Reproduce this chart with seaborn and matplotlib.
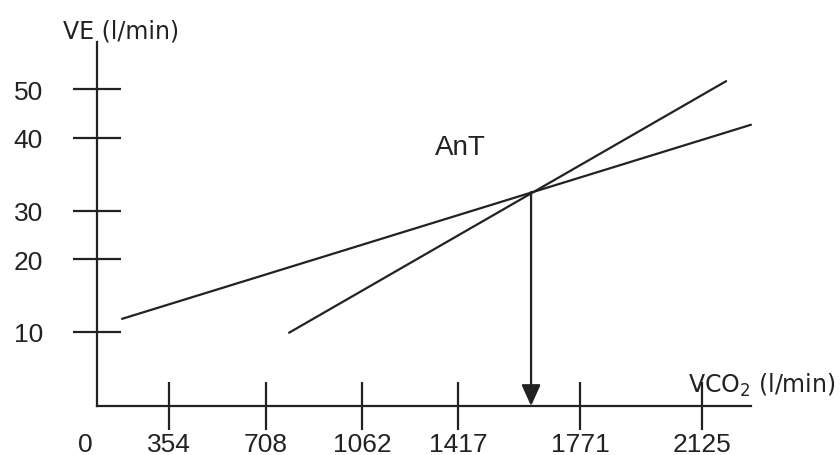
import numpy as np
import matplotlib
matplotlib.use("Agg")
import matplotlib.pyplot as plt
import seaborn as sns
import pandas as pd

# ---- data (read from the schematic) ----
vco2_ticks = [354, 708, 1062, 1417, 1771, 2125]
ve_ticks = [10, 20, 30, 40, 50]

# aerobic (shallow) line and anaerobic (steep) line
vco2_shallow = [123, 2267]
ve_shallow = [11.8, 42.7]
vco2_steep = [793, 2195]
ve_steep = [9.9, 51.6]

# anaerobic threshold (intersection)
ant_vco2 = 1629
ant_ve = 32.6

# ---- schematic (non-uniform) axis spacing: value -> drawn position ----
x_knot_vals = [0, 354, 708, 1062, 1417, 1771, 2125]
x_knot_pos = [97, 169, 266, 362, 458, 580, 702]
y_knot_vals = [0, 10, 20, 30, 40, 50]
y_knot_pos = [49, 123, 196, 244, 317, 366]


def piecewise(src, dst):
    src = np.asarray(src, float)
    dst = np.asarray(dst, float)
    s0 = (dst[1] - dst[0]) / (src[1] - src[0])
    s1 = (dst[-1] - dst[-2]) / (src[-1] - src[-2])

    def f(v):
        v = np.asarray(v, float)
        out = np.interp(v, src, dst)
        out = np.where(v < src[0], dst[0] + (v - src[0]) * s0, out)
        out = np.where(v > src[-1], dst[-1] + (v - src[-1]) * s1, out)
        return out
    return f


fx, ix = piecewise(x_knot_vals, x_knot_pos), piecewise(x_knot_pos, x_knot_vals)
fy, iy = piecewise(y_knot_vals, y_knot_pos), piecewise(y_knot_pos, y_knot_vals)

sns.set_style("white")
plt.rcParams["font.family"] = ["Liberation Sans", "DejaVu Sans"]
plt.rcParams["mathtext.fontset"] = "dejavusans"

W, H = 840, 456
ink = "#222222"
fig = plt.figure(figsize=(W / 100, H / 100), dpi=100)
left_px, right_px, bottom_px, top_px = 97, 751, 49, 413
ax = fig.add_axes([left_px / W, bottom_px / H, (right_px - left_px) / W, (top_px - bottom_px) / H])
ax.set_xscale("function", functions=(fx, ix))
ax.set_yscale("function", functions=(fy, iy))
ax.set_xlim(0, float(ix(right_px)))
ax.set_ylim(0, float(iy(top_px)))
ax.patch.set_alpha(0)

df1 = pd.DataFrame({"VCO2": vco2_shallow, "VE": ve_shallow})
df2 = pd.DataFrame({"VCO2": vco2_steep, "VE": ve_steep})
sns.lineplot(data=df1, x="VCO2", y="VE", ax=ax, color=ink, lw=1.6,
             estimator=None, sort=False, clip_on=False)
sns.lineplot(data=df2, x="VCO2", y="VE", ax=ax, color=ink, lw=1.6,
             estimator=None, sort=False, clip_on=False)

ax.annotate("", xy=(ant_vco2, 0), xytext=(ant_vco2, ant_ve),
            arrowprops=dict(arrowstyle="-|>,head_length=1.0,head_width=0.45",
                            mutation_scale=13, lw=1.6, color=ink,
                            shrinkA=0, shrinkB=0))

ax.text(1332, 37.8, "AnT", fontsize=20, color=ink, ha="left", va="baseline")

for s in ["top", "right"]:
    ax.spines[s].set_visible(False)
for s in ["left", "bottom"]:
    ax.spines[s].set_color(ink)
    ax.spines[s].set_linewidth(1.6)

ax.set_xticks(vco2_ticks)
ax.set_xticklabels([str(v) for v in vco2_ticks])
ax.set_yticks(ve_ticks)
ax.set_yticklabels([str(v) for v in ve_ticks])
ax.minorticks_off()
ax.tick_params(axis="both", direction="inout", length=35, width=1.6, color=ink,
               labelsize=19, labelcolor=ink, bottom=True, left=True,
               top=False, right=False)
ax.tick_params(axis="x", pad=1)
ax.tick_params(axis="y", pad=21.5)
ax.set_xlabel("")
ax.set_ylabel("")

ax.annotate("0", xy=(0, 0), xytext=(-8.6, -18.5), textcoords="offset points",
            ha="center", va="top", fontsize=19, color=ink)

fig.text(63 / W, 1 - 31 / H, "VE (l/min)", ha="left", va="center",
         fontsize=17, color=ink, family=["DejaVu Sans"])
fig.text(688 / W, 1 - 393 / H, "VCO$_2$ (l/min)", ha="left", va="baseline",
         fontsize=17, color=ink, family=["DejaVu Sans"])

fig.savefig("out.png", dpi=100)
